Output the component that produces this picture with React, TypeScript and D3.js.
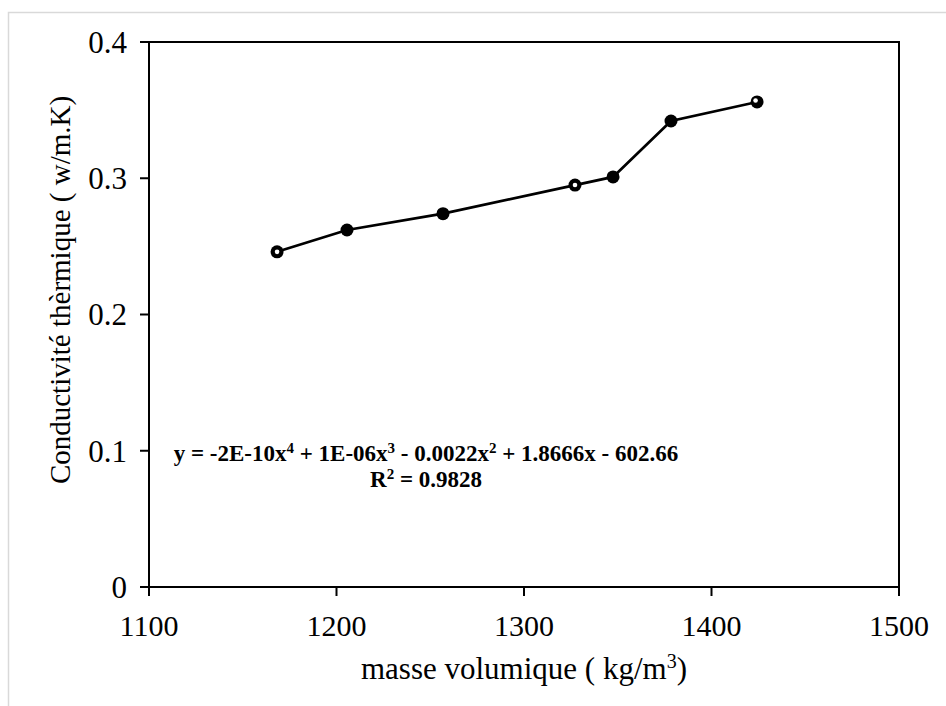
import React from "react";
import * as d3 from "d3";

const density = [1168.3, 1205.6, 1256.8, 1327.2, 1347.5, 1378.4, 1424.3];
const conductivity = [0.246, 0.262, 0.274, 0.295, 0.301, 0.342, 0.356];
const xTicks = [1100, 1200, 1300, 1400, 1500];
const yTicks = [0, 0.1, 0.2, 0.3, 0.4];
const xTitle = "masse volumique ( kg/m";
const yTitle = "Conductivité thèrmique ( w/m.K)";
const eqParts = [
  ["y = -2E-10x", "4"],
  [" + 1E-06x", "3"],
  [" - 0.0022x", "2"],
  [" + 1.8666x - 602.66", ""],
];

export default function App() {
  const W = 946, H = 706;
  const m = { left: 149, right: 899, top: 42, bottom: 587 };
  const x = d3.scaleLinear().domain([1100, 1500]).range([m.left, m.right]);
  const y = d3.scaleLinear().domain([0, 0.4]).range([m.bottom, m.top]);
  const pts = density.map((d, i) => [d, conductivity[i]] as [number, number]);
  const line = d3.line<[number, number]>().x(d => x(d[0])).y(d => y(d[1]));
  const font = "'Liberation Serif', serif";
  const supShift = 8;
  return (
    <svg width={W} height={H} style={{ position: "absolute", left: 0, top: 0, background: "#fff" }}
      fontFamily={font}>
      <rect x={8.5} y={12.5} width={W + 10} height={H + 10} fill="#fff" stroke="#d9d9d9" strokeWidth={1.5} />
      <rect x={m.left} y={m.top} width={m.right - m.left} height={m.bottom - m.top}
        fill="none" stroke="#000" strokeWidth={2} />
      {yTicks.map(t => (
        <g key={"y" + t}>
          <line x1={m.left - 9} x2={m.left} y1={y(t)} y2={y(t)} stroke="#000" strokeWidth={2} />
          <text x={m.left - 22} y={y(t)} dy="0.35em" textAnchor="end" fontSize={31}>{t === 0 ? "0" : t.toFixed(1)}</text>
        </g>
      ))}
      {xTicks.map(t => (
        <g key={"x" + t}>
          <line x1={x(t)} x2={x(t)} y1={m.bottom} y2={m.bottom + 9} stroke="#000" strokeWidth={2} />
          <text x={x(t)} y={636} textAnchor="middle" fontSize={30}>{t}</text>
        </g>
      ))}
      <text x={524} y={679} textAnchor="middle" fontSize={31}>
        {xTitle}<tspan fontSize={20} dy={-11}>3</tspan><tspan dy={11}>)</tspan>
      </text>
      <text transform={`translate(70,${290}) rotate(-90)`} textAnchor="middle" fontSize={29}>{yTitle}</text>
      <path d={line(pts) || ""} fill="none" stroke="#000" strokeWidth={2.7} />
      {pts.map((p, i) => (
        <circle key={i} cx={x(p[0])} cy={y(p[1])} r={6.5} fill="#000" />
      ))}
      {[0, 3].map(i => (
        <circle key={"w" + i} cx={x(pts[i][0])} cy={y(pts[i][1])} r={2.3} fill="#fff" />
      ))}
      <circle cx={x(pts[6][0]) - 1.5} cy={y(pts[6][1]) - 1.5} r={2.3} fill="#fff" />
      <text x={426} y={461} textAnchor="middle" fontSize={23} fontWeight="bold">
        {eqParts.map((p, i) => (
          <React.Fragment key={i}>
            <tspan dy={i === 0 ? 0 : supShift}>{p[0]}</tspan>
            {p[1] ? <tspan fontSize={15} dy={-supShift}>{p[1]}</tspan> : null}
          </React.Fragment>
        ))}
      </text>
      <text x={426} y={487} textAnchor="middle" fontSize={23} fontWeight="bold">
        R<tspan fontSize={15} dy={-supShift}>2</tspan><tspan dy={supShift}> = 0.9828</tspan>
      </text>
    </svg>
  );
}
